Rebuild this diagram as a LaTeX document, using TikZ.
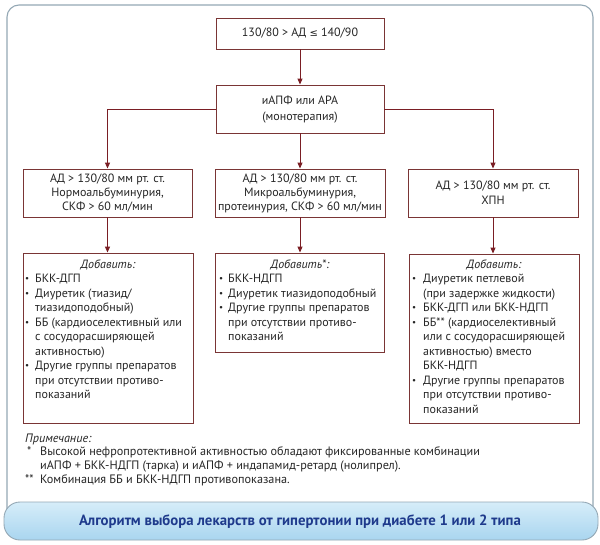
\documentclass[tikz,border=0pt]{standalone}
\usepackage{fontspec}
\setmainfont{PT Sans}
\newfontfamily\dejavu{DejaVu Sans}
\usetikzlibrary{arrows.meta}
\definecolor{boxc}{HTML}{7A3535}
\definecolor{arrc}{HTML}{7A1E24}
\definecolor{txt}{HTML}{262626}
\definecolor{framec}{HTML}{94A8B5}
\definecolor{titlec}{HTML}{1E3A8C}
\definecolor{bartop}{HTML}{D6EDF9}
\definecolor{barbot}{HTML}{A9D5EF}
\newcommand\bul{\raisebox{0.15ex}{\scalebox{0.75}{•}}}
\begin{document}
\begin{tikzpicture}[x=1pt,y=-1pt,
  box/.style={draw=boxc, line width=0.9pt, fill=white, inner sep=0pt, text=txt,
              align=center, font=\fontsize{12}{14}\selectfont},
  arr/.style={draw=arrc, line width=1pt, -{Triangle[length=6pt,width=5pt]}},
  hdr/.style={text=txt, inner sep=0pt, font=\itshape\fontsize{12}{14}\selectfont},
  lst/.style={text=txt, inner sep=0pt, anchor=north west, font=\fontsize{12}{14.5}\selectfont},
  note/.style={text=txt, inner sep=0pt, anchor=base west, font=\fontsize{12.2}{14}\selectfont}]
\useasboundingbox (0,0) rectangle (600,544);
\fill[white] (0,0) rectangle (600,544);
\draw[framec, line width=1.1pt, rounded corners=12pt] (7,5) rectangle (593,522);

% top boxes
\node[box, minimum width=168pt, minimum height=31pt] (A) at (300,33.5)
  {130/80 > АД {\dejavu\fontsize{10}{12}\selectfont ≤} 140/90};
\node[box, minimum width=168pt, minimum height=48pt, font=\fontsize{12}{16}\selectfont] (B) at (300,109)
  {иАПФ или АРА\\(монотерапия)};

% condition boxes
\node[box, minimum width=169pt, minimum height=48pt] (C1) at (107.5,193)
  {АД > 130/80 мм рт. ст.\\Нормоальбуминурия,\\СКФ > 60 мл/мин};
\node[box, minimum width=170pt, minimum height=48pt] (C2) at (300,193)
  {АД > 130/80 мм рт. ст.\\Микроальбуминурия,\\протеинурия, СКФ > 60 мл/мин};
\node[box, minimum width=170pt, minimum height=48pt, font=\fontsize{12}{15}\selectfont] (C3) at (493,193)
  {АД > 130/80 мм рт. ст.\\ХПН};

% drug boxes
\node[box, minimum width=170pt, minimum height=170pt] (D1) at (108,338) {};
\node[box, minimum width=169pt, minimum height=99pt] (D2) at (299.5,302.5) {};
\node[box, minimum width=170pt, minimum height=169pt] (D3) at (494,338.5) {};

% arrows
\draw[arr] (A.south) -- (B.north);
\draw[arr] (B.west) -| (C1.north);
\draw[arr] (B.south) -- (C2.north);
\draw[arr] (B.east) -| (C3.north);
\draw[arr] (C1.south) -- (C1.south |- D1.north);
\draw[arr] (C2.south) -- (C2.south |- D2.north);
\draw[arr] (C3.south) -- (C3.south |- D3.north);

% D1 content
\node[hdr] (D1h) at (108,265) {Добавить:};
\node[lst] (D1t) at (25,272.5) {\begin{tabular}{@{}p{10pt}@{}l@{}}
\bul & БКК-ДГП\\
\bul & Диуретик (тиазид/\\
     & тиазидоподобный)\\
\bul & ББ (кардиоселективный или\\
     & с сосудорасширяющей\\
     & активностью)\\
\bul & Другие группы препаратов\\
     & при отсутствии противо-\\
     & показаний
\end{tabular}};

% D2 content
\node[hdr] (D2h) at (300,265) {Добавить*:};
\node[lst] (D2t) at (219,272.5) {\begin{tabular}{@{}p{9pt}@{}l@{}}
\bul & БКК-НДГП\\
\bul & Диуретик тиазидоподобный\\
\bul & Другие группы препаратов\\
     & при отсутствии противо-\\
     & показаний
\end{tabular}};

% D3 content
\node[hdr] (D3h) at (494,265) {Добавить:};
\node[lst] (D3t) at (412,272.5) {\begin{tabular}{@{}p{11pt}@{}l@{}}
\bul & Диуретик петлевой\\
     & (при задержке жидкости)\\
\bul & БКК-ДГП или БКК-НДГП\\
\bul & ББ** (кардиоселективный\\
     & или с сосудорасширяющей\\
     & активностью) вместо\\
     & БКК-НДГП\\
\bul & Другие группы препаратов\\
     & при отсутствии противо-\\
     & показаний
\end{tabular}};

% notes
\node[note, font=\itshape\fontsize{12.2}{14}\selectfont] (n0) at (25,442) {Примечание:};
\node[note] (n1s) at (27,455) {*};
\node[note] (n1) at (40,455) {Высокой нефропротективной активностью обладают фиксированные комбинации};
\node[note] (n2) at (40,469) {иАПФ + БКК-НДГП (тарка) и иАПФ + индапамид-ретард (нолипрел).};
\node[note] (n3s) at (25,483) {**};
\node[note] (n3) at (40,483) {Комбинация ББ и БКК-НДГП противопоказана.};

% title bar
\draw[draw=framec, line width=0.9pt, rounded corners=16pt, top color=bartop, bottom color=barbot]
  (4,502) rectangle (598,540);
\node[text=titlec, inner sep=0pt, font=\bfseries\fontsize{14.8}{16}\selectfont] (title) at (300,521.5)
  {Алгоритм выбора лекарств от гипертонии при диабете 1 или 2 типа};
\end{tikzpicture}
\end{document}
